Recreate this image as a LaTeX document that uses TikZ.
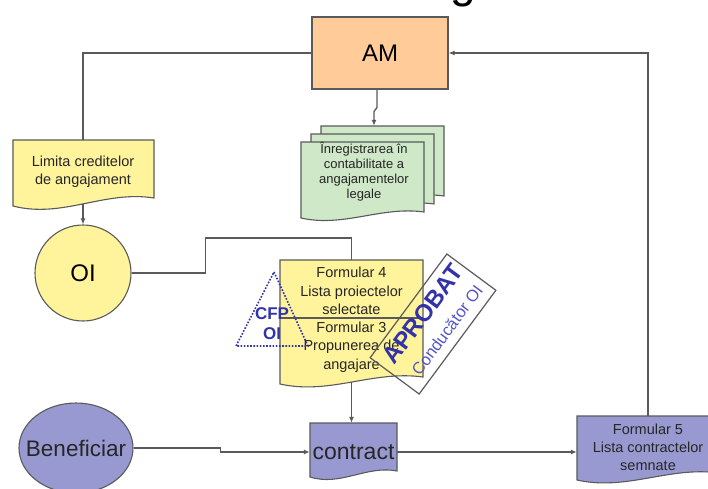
\documentclass[tikz,border=0pt]{standalone}
\usepackage{fontspec}
\setmainfont{Liberation Sans}
\usetikzlibrary{arrows.meta,calc,shapes.geometric}
\definecolor{peach}{RGB}{255,204,153}
\definecolor{yel}{RGB}{255,243,155}
\definecolor{grn}{RGB}{206,232,200}
\definecolor{pur}{RGB}{153,153,210}
\definecolor{bord}{RGB}{90,90,90}
\definecolor{stampblue}{RGB}{50,50,170}
\definecolor{stampblueb}{RGB}{85,85,200}
\newcommand{\docshape}[6]{\draw[#6] (#1,#3) -- (#2,#3) -- (#2,{#4-#5}) .. controls ({#2-0.35*(#2-#1)},{#4-2*#5}) and ({#1+0.35*(#2-#1)},{#4+1.6*#5}) .. (#1,#4) -- cycle;}
\begin{document}
\begin{tikzpicture}[x=1pt,y=-1pt,
  box/.style={draw=bord,line width=1.1pt},
  conn/.style={draw=bord,line width=1.3pt},
  arr/.style={conn,-{Latex[length=6pt,width=5pt]}},
  lbl/.style={inner sep=0pt,align=center,text=black!85},
  anch/.style={inner sep=0pt,draw=none}]
\useasboundingbox (0,0) rectangle (708,488);
\fill[white] (0,0) rectangle (708,488);
\begin{scope}
\clip (0,0) rectangle (708,488);
% title (only its lower edge shows)
\begin{scope}[y=1pt]
\node[anchor=base east,inner sep=0pt,font=\fontsize{46}{46}\selectfont] (title) at (668,3) {FLUX INITIAL – cu delegare totală};
\end{scope}

% AM
\node[box,fill=peach,minimum width=136pt,minimum height=72pt,inner sep=0pt,font=\fontsize{24}{24}\selectfont] (am) at (380,53) {AM};

% green stack
\docshape{321}{444}{126}{202}{6}{box,fill=grn}
\docshape{311}{434}{134}{210}{6}{box,fill=grn}
\docshape{301}{424}{142}{218}{6}{box,fill=grn}
\node[anch,minimum width=123pt,minimum height=76pt] (gback) at (382.5,164) {};
\node[lbl,font=\fontsize{13}{15}\selectfont] (gtxt) at (364,172) {Înregistrarea în\\contabilitate a\\angajamentelor\\legale};

% Limita
\docshape{13}{154}{140}{206}{8}{box,fill=yel}
\node[anch,lbl,minimum width=141pt,minimum height=64pt,font=\fontsize{14.5}{18}\selectfont] (lim) at (83,172) {Limita creditelor\\de angajament};

% OI
\node[circle,box,fill=yel,minimum size=96pt,inner sep=0pt,font=\fontsize{24}{24}\selectfont] (oi) at (83,273) {OI};

% Formular 4 / 3
\docshape{280}{423}{260}{384}{7}{box,fill=yel}
\draw[box] (280,318) -- (423,318);
\node[anch,minimum width=143pt,minimum height=122pt] (form) at (351.5,321) {};
\node[lbl,font=\fontsize{14.5}{18.5}\selectfont] (f4) at (351.5,291) {Formular 4\\Lista proiectelor\\selectate};
\node[lbl,font=\fontsize{14.5}{18.5}\selectfont] (f3) at (351.5,347) {Formular 3\\Propunerea de\\angajare};

% CFP OI triangle
\draw[stampblue,line width=1.6pt,dash pattern=on 1.6pt off 1.6pt] (274,272) -- (308,346) -- (236,346) -- cycle;
\node[inner sep=0pt,align=center,text=stampblue,font=\bfseries\fontsize{17}{20}\selectfont] (cfp) at (272,324) {CFP\\OI};

% APROBAT stamp
\node[draw=bord,line width=1.2pt,minimum width=129pt,minimum height=61pt,rotate=53.5,inner sep=0pt] (stamp) at (433,324) {};
\node[rotate=53.5,text=stampblue,font=\bfseries\fontsize{24}{24}\selectfont,inner sep=0pt] (aprobat) at (423,314) {APROBAT};
\node[rotate=53.5,text=stampblueb,font=\fontsize{16.5}{17}\selectfont,inner sep=0pt] (cond) at (447,330) {Conducător OI};

% Beneficiar
\node[ellipse,box,fill=pur,minimum width=114pt,minimum height=90pt,inner sep=0pt] (ben) at (76,448) {};
\node[inner sep=0pt,text=black!85,font=\fontsize{22.5}{22.5}\selectfont] (bentxt) at (ben.center) {Beneficiar};

% contract
\docshape{310}{397}{423}{477}{6}{box,fill=pur}
\node[anch,minimum width=87pt,minimum height=58pt,text=black!85,font=\fontsize{23}{23}\selectfont] (ctr) at (353.5,452) {contract};

% Formular 5
\docshape{577}{719}{416}{480}{7}{box,fill=pur}
\node[anch,minimum width=142pt,minimum height=72pt] (f5) at (648,452) {};
\node[lbl,font=\fontsize{14.5}{18}\selectfont] (f5txt) at (648,447) {Formular 5\\Lista contractelor\\semnate};

% connectors
\draw[conn] (am.west) -| (lim.north);
\draw[arr] (f5.north) |- (am.east);
\draw[arr] ([xshift=-3pt]am.south) -- ++(0,18) -- ++(-3,4) -- ([xshift=-8.5pt]gback.north);
\draw[arr] (lim.south) -- (oi.north);
\draw[conn] (oi.east) -- ++(74,0) -- ++(0,-35) -| (form.north);
\draw[arr] (form.south) -- (form.south |- ctr.north);
\draw[arr] (ben.east) -- ++(87,0) -- ++(0,4) -- (ctr.west);
\draw[arr] (ctr.east) -- (f5.west);
\end{scope}
\end{tikzpicture}
\end{document}
